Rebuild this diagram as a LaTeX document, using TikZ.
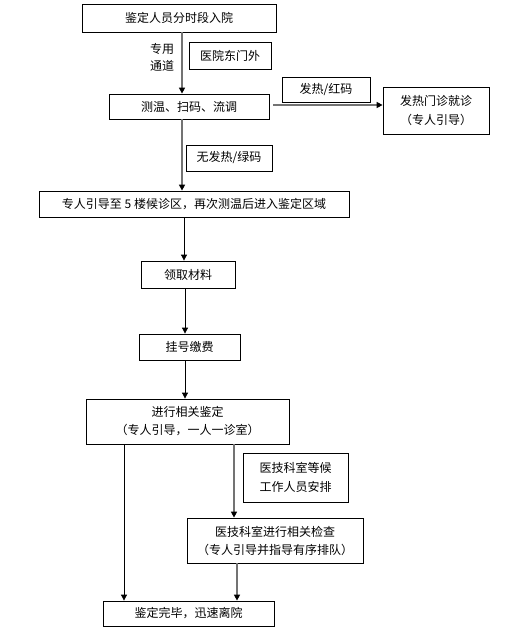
\documentclass[tikz,border=0pt]{standalone}
\usepackage{fontspec}
\setmainfont{Noto Sans CJK SC}
\usetikzlibrary{arrows.meta}
\begin{document}
\begin{tikzpicture}[x=1pt,y=-1pt,
  box/.style={draw=black,line width=0.8pt,rectangle,inner sep=0pt,align=center,font=\fontsize{12}{15}\selectfont},
  lbl/.style={inner sep=0pt,align=center,font=\fontsize{12}{17}\selectfont},
  arr/.style={draw=black,line width=0.8pt,-{Triangle[length=6pt,width=6pt]}},
  garr/.style={draw=black!55,line width=1.5pt,-{Triangle[length=6pt,width=6pt,fill=black,color=black]}}]
\useasboundingbox (0,0) rectangle (528,636);
\node[box,minimum width=194pt,minimum height=28pt] (b1) at (179,18) {鉴定人员分时段入院};
\node[lbl] (l1) at (162,57) {专用\\通道};
\node[box,minimum width=82pt,minimum height=27pt] (n1) at (230,55.5) {医院东门外};
\node[box,minimum width=160pt,minimum height=25pt] (b2) at (189,106.5) {测温、扫码、流调};
\node[box,minimum width=88pt,minimum height=25pt] (n2) at (326,89.5) {发热/红码};
\node[box,minimum width=106pt,minimum height=47pt,font=\fontsize{12}{19}\selectfont] (b3) at (436,110.5) {发热门诊就诊\\（专人引导）};
\node[box,minimum width=86pt,minimum height=26pt] (n3) at (229,158) {无发热/绿码};
\node[box,minimum width=310pt,minimum height=26pt] (b4) at (194,204) {专人引导至 5 楼候诊区，再次测温后进入鉴定区域};
\node[box,minimum width=94pt,minimum height=27pt] (b5) at (188,274.5) {领取材料};
\node[box,minimum width=101pt,minimum height=26pt] (b6) at (189.5,347) {挂号缴费};
\node[box,minimum width=203pt,minimum height=45pt,font=\fontsize{12}{18}\selectfont] (b7) at (187.5,421.5) {进行相关鉴定\\（专人引导，一人一诊室）};
\node[box,minimum width=105pt,minimum height=49pt,font=\fontsize{12}{19}\selectfont] (n4) at (295.5,477.5) {医技科室等候\\工作人员安排};
\node[box,minimum width=176pt,minimum height=45pt,font=\fontsize{12}{18}\selectfont] (b8) at (275,540.5) {医技科室进行相关检查\\（专人引导并指导有序排队）};
\node[box,minimum width=171pt,minimum height=25pt] (b9) at (188.5,613.5) {鉴定完毕，迅速离院};
\draw[garr] ([xshift=3pt]b1.south) -- ([xshift=-7pt]b2.north);
\draw[garr] ([xshift=4pt,yshift=1.5pt]b2.east) -- ([yshift=1.5pt]b2.east -| b3.west);
\draw[garr] ([xshift=-7pt]b2.south) -- ([xshift=-12pt]b4.north);
\draw[arr] ([xshift=-10pt]b4.south) -- ([xshift=-4pt]b5.north);
\draw[arr] ([xshift=-3pt]b5.south) -- ([xshift=-4.5pt]b6.north);
\draw[arr] ([xshift=-4.5pt]b6.south) -- ([xshift=-2.5pt]b7.north);
\draw[arr] ([xshift=-63.5pt]b7.south) -- ([xshift=-64.5pt]b9.north);
\draw[garr] ([xshift=46.5pt]b7.south) -- ([xshift=-41pt]b8.north);
\draw[garr] ([xshift=-38pt]b8.south) -- ([xshift=48.5pt]b9.north);
\end{tikzpicture}
\end{document}
